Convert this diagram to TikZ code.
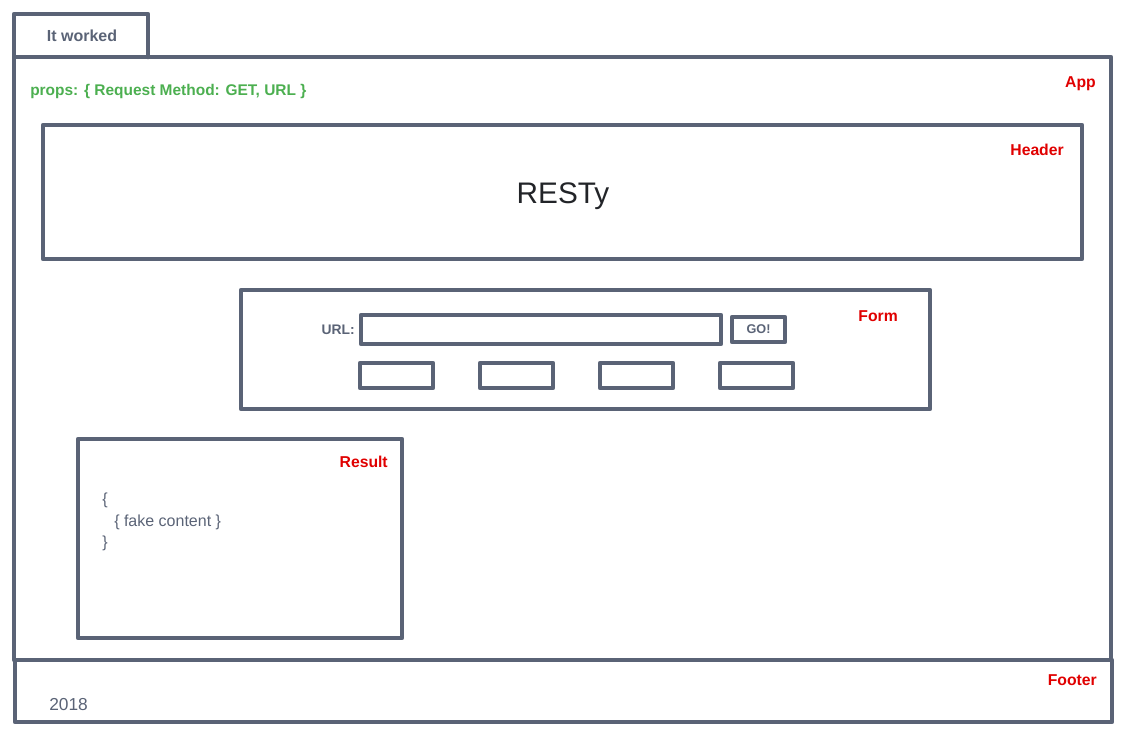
\documentclass[tikz,border=0pt]{standalone}
\usepackage{fontspec}
\setmainfont{Liberation Sans}
\definecolor{wire}{HTML}{5A6376}
\definecolor{tagred}{HTML}{E00000}
\definecolor{propgreen}{HTML}{4CAF50}
\definecolor{ink}{HTML}{222428}
\begin{document}
\begin{tikzpicture}[x=0.75pt,y=-0.75pt,
  box/.style={draw=wire,line width=3.4pt,line join=round,line cap=round},
  tag/.style={text=tagred,inner sep=0pt,font=\bfseries\fontsize{11.8}{14}\selectfont},
  plain/.style={text=wire,inner sep=0pt,font=\fontsize{12}{14}\selectfont}]
\useasboundingbox (0,0) rectangle (1133,739);

\draw[box] (14,57)--(14,14)--(148,14)--(148,57);
\draw[box] (14,57) rectangle (1111,660);
\draw[box] (43,125) rectangle (1082,259);
\draw[box] (241,290) rectangle (930,409);
\draw[box] (361,315) rectangle (721,344);
\draw[box] (732,317) rectangle (785,342);
\foreach \i in {0,1,2,3}
{
\draw[box] ({360+120*\i},363) rectangle ({433+120*\i},388);
}
\draw[box] (78,439) rectangle (402,638);
\draw[box] (15,660) rectangle (1112,722);

\draw (82,36) node[text=wire,font=\bfseries\fontsize{12}{14}\selectfont] (tab) {It worked};
\draw (30,95) node[anchor=base west,inner sep=0pt,text=propgreen,font=\bfseries\fontsize{11.6}{14}\selectfont] (props) {props: \{ Request Method: GET, URL \}};
\draw (1096,87) node[tag,anchor=base east] (app) {App};
\draw (1064,155) node[tag,anchor=base east] (header) {Header};
\draw (563,203) node[anchor=base,inner sep=0pt,text=ink,font=\fontsize{22.3}{26}\selectfont] (title) {RESTy};
\draw (898,321) node[tag,anchor=base east] (form) {Form};
\draw (355,334) node[anchor=base east,inner sep=0pt,text=wire,font=\bfseries\fontsize{10.4}{12}\selectfont] (url) {URL:};
\draw (758.5,329.5) node[text=wire,font=\bfseries\fontsize{9.5}{11}\selectfont] (go) {GO!};
\draw (388,467) node[tag,anchor=base east] (result) {Result};
\draw (102,504) node[plain,anchor=base west] (open) {\{};
\draw (114,526) node[plain,anchor=base west] (fake) {\{ fake content \}};
\draw (102,547) node[plain,anchor=base west] (close) {\}};
\draw (49,710) node[plain,anchor=base west,font=\fontsize{13}{15}\selectfont] (year) {2018};
\draw (1097,685) node[tag,anchor=base east] (footer) {Footer};
\end{tikzpicture}
\end{document}
